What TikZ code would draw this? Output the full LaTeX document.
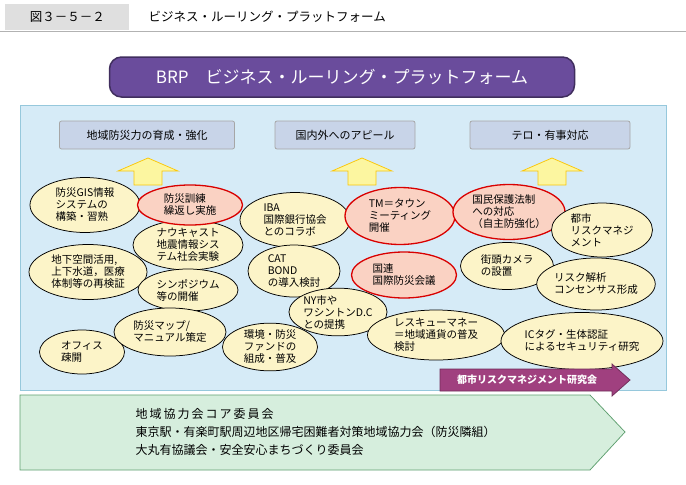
\documentclass[tikz,border=0pt]{standalone}
\usepackage{fontspec}
\setmainfont{Noto Sans CJK JP}
\usetikzlibrary{shapes.geometric}
\definecolor{panelblue}{RGB}{214,235,247}
\definecolor{panelline}{RGB}{150,200,220}
\definecolor{headgray}{RGB}{200,212,232}
\definecolor{oval}{RGB}{252,244,200}
\definecolor{ovalred}{RGB}{250,210,195}
\definecolor{brppurple}{RGB}{106,76,156}
\definecolor{kenmag}{RGB}{160,64,127}
\definecolor{kyogreen}{RGB}{214,238,221}
\definecolor{kyoline}{RGB}{95,160,112}
\definecolor{uparrow}{RGB}{252,246,160}
\tikzset{every picture/.style={line width=0.75pt}}
\tikzset{
  idea/.style={ellipse,draw=black,fill=oval,inner sep=0pt,align=left,font=\fontsize{10.5}{12}\selectfont},
  keyidea/.style={idea,draw=red!85!black,line width=1.3pt,fill=ovalred},
  goal/.style={draw=gray!70,fill=headgray,rounded corners=2pt,minimum width=#1,minimum height=28pt,font=\fontsize{11}{13}\selectfont},
  lift/.style={draw=yellow!60!orange,fill=uparrow}
}
\newcommand{\liftarrow}[1]{\draw[lift] (#1-14,185) -- (#1-14,171) -- (#1-30,171) -- (#1,158) -- (#1+30,171) -- (#1+14,171) -- (#1+14,185) -- cycle;}
\begin{document}
\begin{tikzpicture}[x=1pt,y=1pt,yscale=-1]
    \useasboundingbox (0,0) rectangle (686,485);
    \fill[white] (0,0) rectangle (686,485);
    % Header
    \draw[gray!60] (0,31) -- (686,31);
    \node[fill=gray!25,minimum width=124pt,minimum height=26pt,anchor=north west,font=\fontsize{12.5}{14}\selectfont] (fig) at (5,4) {図３－５－２};
    \node[anchor=west,font=\fontsize{12.5}{14}\selectfont] (title) at (145,17) {ビジネス・ルーリング・プラットフォーム};
    % BRP banner
    \node[draw=brppurple!60!black,line width=1.5pt,fill=brppurple,rounded corners=12pt,minimum width=465pt,minimum height=40pt,text=white,font=\fontsize{17}{19}\selectfont] (brp) at (342,77) {BRP　ビジネス・ルーリング・プラットフォーム};
    % Panel
    \draw[panelline,fill=panelblue] (20,105) rectangle (666,390);
    % Goals
    \node[goal=175pt] (local) at (147,135) {地域防災力の育成・強化};
    \node[goal=140pt] (appeal) at (345,135) {国内外へのアピール};
    \node[goal=160pt] (terror) at (550,135) {テロ・有事対応};
    \liftarrow{148}
    \liftarrow{362}
    \liftarrow{552}
    % Ideas
    \node[idea,minimum width=110pt,minimum height=55pt] (gis) at (85,205) {防災GIS情報\\システムの\\構築・習熟};
    \node[idea,minimum width=118pt,minimum height=55pt] (chika) at (88,272) {地下空間活用,\\上下水道，医療\\体制等の再検証};
    \node[idea,minimum width=85pt,minimum height=44pt] (office) at (82,352) {オフィス\\疎開};
    \node[idea,minimum width=110pt,minimum height=50pt] (nowcast) at (188,245) {ナウキャスト\\地震情報シス\\テム社会実験};
    \node[idea,minimum width=100pt,minimum height=42pt] (sympo) at (188,290) {シンポジウム\\等の開催};
    \node[idea,minimum width=112pt,minimum height=48pt] (map) at (170,332) {防災マップ/\\マニュアル策定};
    \node[keyidea,minimum width=105pt,minimum height=40pt] (kunren) at (190,205) {防災訓練\\繰返し実施};
    \node[idea,minimum width=110pt,minimum height=55pt] (iba) at (295,220) {IBA\\国際銀行協会\\とのコラボ};
    \node[idea,minimum width=92pt,minimum height=52pt] (cat) at (294,271) {CAT\\BOND\\の導入検討};
    \node[idea,minimum width=95pt,minimum height=45pt] (kankyo) at (270,347) {環境・防災\\ファンドの\\組成・普及};
    \node[idea,minimum width=97pt,minimum height=45pt] (ny) at (338,312) {NY市や\\ワシントンD.C\\との提携};
    \node[keyidea,minimum width=110pt,minimum height=57pt] (tm) at (400,216) {TM＝タウン\\ミーティング\\開催};
    \node[keyidea,minimum width=105pt,minimum height=46pt] (un) at (404,275) {国連\\国際防災会議};
    \node[idea,minimum width=137pt,minimum height=50pt] (rescue) at (436,335) {レスキューマネー\\＝地域通貨の普及\\検討};
    \node[keyidea,minimum width=112pt,minimum height=55pt] (hogo) at (509,212) {国民保護法制\\への対応\\（自主防強化）};
    \node[idea,minimum width=93pt,minimum height=47pt] (camera) at (507,266) {街頭カメラ\\の設置};
    \node[idea,minimum width=101pt,minimum height=54pt] (toshi) at (602,230) {都市\\リスクマネジ\\メント};
    \node[idea,minimum width=118pt,minimum height=52pt] (kaiseki) at (596,284) {リスク解析\\コンセンサス形成};
    \node[idea,minimum width=135pt,minimum height=57pt] (ictag) at (582,341) {ICタグ・生体認証\\によるセキュリティ研究};
    % Study group
    \draw[fill=kenmag,draw=kenmag!70!black] (440,369) -- (612,369) -- (612,364) -- (630,380) -- (612,396) -- (612,391) -- (440,391) -- cycle;
    \node[text=white,font=\fontsize{10}{11}\selectfont\bfseries] (kenkyu) at (527,380) {都市リスクマネジメント研究会};
    % Council
    \draw[fill=kyogreen,draw=kyoline] (20,395) -- (590,395) -- (625,432) -- (590,470) -- (20,470) -- cycle;
    \node[anchor=west,align=left,font=\fontsize{12}{18}\selectfont] (kyogi) at (132,432) {地\,域\,協\,力\,会\,コ\,ア\,委\,員\,会\\東京駅・有楽町駅周辺地区帰宅困難者対策地域協力会（防災隣組）\\大丸有協議会・安全安心まちづくり委員会};
\end{tikzpicture}
\end{document}
